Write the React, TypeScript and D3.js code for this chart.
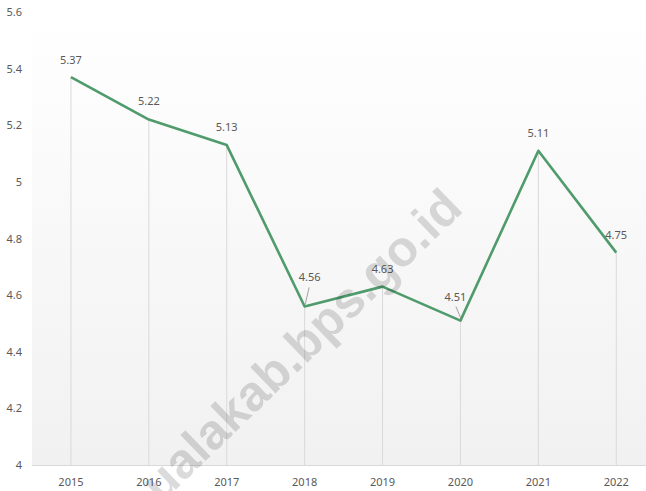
import React from "react";
import * as d3 from "d3";

const years = ["2015", "2016", "2017", "2018", "2019", "2020", "2021", "2022"];
const values = [5.37, 5.22, 5.13, 4.56, 4.63, 4.51, 5.11, 4.75];
const yTicks = [4, 4.2, 4.4, 4.6, 4.8, 5, 5.2, 5.4, 5.6];
const labelOffsets = [
  [0, -13, false],
  [0, -15, false],
  [0, -14, false],
  [5, -25, true],
  [0, -14, false],
  [-5, -20, true],
  [0, -14, false],
  [0, -14, false],
] as [number, number, boolean][];

const W = 646;
const H = 491;
const left = 32;
const top = 12;
const bottom = 465;
const font = "'Noto Sans', 'Open Sans', sans-serif";

export default function App() {
  const x = d3.scaleBand<string>().domain(years).range([left, left + 8 * 77.9]).padding(0);
  const y = d3.scaleLinear().domain([4, 5.6]).range([bottom, top]);
  const cx = (i: number) => (x(years[i]) as number) + x.bandwidth() / 2;
  const line = d3
    .line<number>()
    .x((_, i) => cx(i))
    .y((d) => y(d));

  return (
    <svg width={W} height={H} style={{ position: "absolute", left: 0, top: 0 }}>
      <defs>
        <linearGradient id="bg" x1="0" y1="0" x2="0" y2="1">
          <stop offset="0%" stopColor="#ffffff" />
          <stop offset="100%" stopColor="#f1f1f1" />
        </linearGradient>
      </defs>
      <rect x={0} y={0} width={W} height={H} fill="#ffffff" />
      <rect x={left} y={top} width={W - left} height={bottom - top} fill="url(#bg)" />
      {values.map((v, i) => (
        <line key={"d" + i} x1={cx(i)} x2={cx(i)} y1={y(v)} y2={bottom} stroke="#d9d9d9" strokeWidth={1} />
      ))}
      <line x1={left} x2={W} y1={bottom + 0.5} y2={bottom + 0.5} stroke="#d9d9d9" strokeWidth={1} />
      {yTicks.map((t) => (
        <text key={"y" + t} x={22} y={y(t) + 4} textAnchor="end" fontSize={11} fill="#595959" fontFamily={font}>
          {String(t)}
        </text>
      ))}
      {years.map((yr, i) => (
        <text key={"x" + yr} x={cx(i)} y={486} textAnchor="middle" fontSize={11} fill="#595959" fontFamily={font}>
          {yr}
        </text>
      ))}
      <path d={line(values) || ""} fill="none" stroke="#4f9b6c" strokeWidth={2.6} strokeLinejoin="round" />
      {values.map((v, i) => {
        const [dx, dy, leader] = labelOffsets[i];
        const px = cx(i);
        const py = y(v);
        return (
          <g key={"l" + i}>
            {leader && (
              <line x1={px + dx * 0.9} y1={py + dy + 6} x2={px + 0.5} y2={py - 2} stroke="#8c8c8c" strokeWidth={0.8} />
            )}
            <text x={px + dx} y={py + dy} textAnchor="middle" fontSize={11} fill="#595959" fontFamily={font}>
              {v.toFixed(2)}
            </text>
          </g>
        );
      })}
      <text
        transform="translate(161,504) rotate(-44)"
        fontSize={50}
        fontWeight="bold"
        fill="#000000"
        fillOpacity={0.14}
        fontFamily="'Liberation Sans', Arial, sans-serif"
      >
        ualakab.bps.go.id
      </text>
    </svg>
  );
}
